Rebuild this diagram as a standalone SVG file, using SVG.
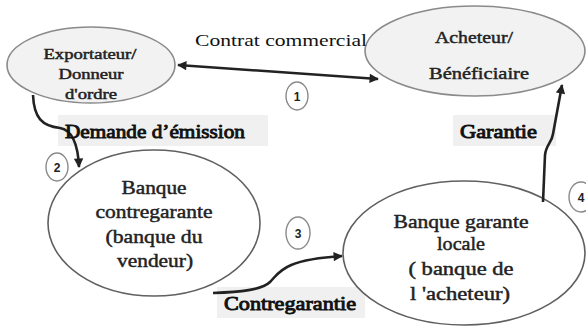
<svg xmlns="http://www.w3.org/2000/svg" width="586" height="329" viewBox="0 0 586 329">
<defs>
<marker id="ah" viewBox="0 0 10 10" refX="9" refY="5" markerWidth="4" markerHeight="3.6" orient="auto-start-reverse" markerUnits="strokeWidth">
<path d="M0,0 L10,5 L0,10 z" fill="#222"/>
</marker>
<style>
.lt{fill:#f2f2f2;stroke:#8a8a8a;stroke-width:1.6}
.wt{fill:#fff;stroke:#606060;stroke-width:1.6}
.num{fill:#fff;stroke:#8a8a8a;stroke-width:1.4}
.box{fill:#f0f0f0}
.c{fill:none;stroke:#222;stroke-width:2.6}
</style>
</defs>
<rect width="586" height="329" fill="#fff"/>
<g id="labels-bg">
<rect class="box" x="58" y="115" width="210" height="31"/>
<rect class="box" x="453" y="115" width="103" height="31"/>
<rect class="box" x="217" y="287" width="148" height="31"/>
</g>
<g id="exportateur" font-family="Liberation Serif, serif" fill="#222" stroke="#222" stroke-width="0.45" text-anchor="middle" font-size="14">
<ellipse class="lt" cx="91" cy="65" rx="84" ry="38"/>
<text x="90" y="59" textLength="93" lengthAdjust="spacingAndGlyphs">Exportateur/</text>
<text x="91" y="79" textLength="65" lengthAdjust="spacingAndGlyphs">Donneur</text>
<text x="91" y="99" textLength="52" lengthAdjust="spacingAndGlyphs">d'ordre</text>
</g>
<g id="acheteur" font-family="Liberation Serif, serif" fill="#222" stroke="#222" stroke-width="0.45" text-anchor="middle" font-size="17">
<ellipse class="lt" cx="475" cy="51" rx="110" ry="45"/>
<text x="474" y="43" textLength="78" lengthAdjust="spacingAndGlyphs">Acheteur/</text>
<text x="479" y="79" textLength="100" lengthAdjust="spacingAndGlyphs">Bénéficiaire</text>
</g>
<g id="banque-contregarante" font-family="Liberation Serif, serif" fill="#222" stroke="#222" stroke-width="0.45" text-anchor="middle" font-size="18">
<ellipse class="wt" cx="154" cy="223" rx="106" ry="73"/>
<text x="154" y="194" textLength="65" lengthAdjust="spacingAndGlyphs">Banque</text>
<text x="154" y="218" textLength="117" lengthAdjust="spacingAndGlyphs">contregarante</text>
<text x="154" y="243" textLength="97" lengthAdjust="spacingAndGlyphs">(banque du</text>
<text x="155" y="267" textLength="76" lengthAdjust="spacingAndGlyphs">vendeur)</text>
</g>
<g id="banque-garante" font-family="Liberation Serif, serif" fill="#222" stroke="#222" stroke-width="0.45" text-anchor="middle" font-size="18">
<ellipse class="wt" cx="464" cy="253" rx="121" ry="72"/>
<text x="461" y="228" textLength="135" lengthAdjust="spacingAndGlyphs">Banque garante</text>
<text x="461" y="250" textLength="48" lengthAdjust="spacingAndGlyphs">locale</text>
<text x="461" y="275" textLength="105" lengthAdjust="spacingAndGlyphs">( banque de</text>
<text x="460" y="300" textLength="100" lengthAdjust="spacingAndGlyphs">l 'acheteur)</text>
</g>
<g id="connectors">
<path class="c" d="M178,65 L378,79" marker-start="url(#ah)" marker-end="url(#ah)"/>
<path class="c" d="M33,95 C34,118 42,126 60,128 C72,130 78,145 79,167" marker-end="url(#ah)"/>
<path class="c" d="M213,293 C240,292 262,290 270,282 C280,272 282,260 342,256" marker-end="url(#ah)"/>
<path class="c" d="M543,202 L545,155 C546,145 552,142 553,134 L562,85" marker-end="url(#ah)"/>
</g>
<g id="step-numbers" font-family="Liberation Sans, Arial, sans-serif" font-weight="bold" font-size="12" fill="#222" text-anchor="middle">
<ellipse class="num" cx="297" cy="96" rx="11" ry="14"/>
<text x="297" y="101">1</text>
<ellipse class="num" cx="57" cy="167" rx="11" ry="14"/>
<text x="57" y="172">2</text>
<ellipse class="num" cx="298" cy="233" rx="12" ry="16"/>
<text x="298" y="238">3</text>
<ellipse class="num" cx="581" cy="197" rx="12" ry="15"/>
<text x="581" y="202">4</text>
</g>
<g id="labels" font-family="Liberation Serif, serif" fill="#111">
<text font-size="17" x="195" y="46" textLength="172" lengthAdjust="spacingAndGlyphs">Contrat commercial</text>
<text font-size="19" stroke="#111" stroke-width="0.9" x="65" y="138" textLength="180" lengthAdjust="spacingAndGlyphs">Demande d’émission</text>
<text font-size="19" stroke="#111" stroke-width="0.9" x="460" y="138" textLength="77" lengthAdjust="spacingAndGlyphs">Garantie</text>
<text font-size="19" stroke="#111" stroke-width="0.9" x="224" y="310" textLength="132" lengthAdjust="spacingAndGlyphs">Contregarantie</text>
</g>
</svg>
